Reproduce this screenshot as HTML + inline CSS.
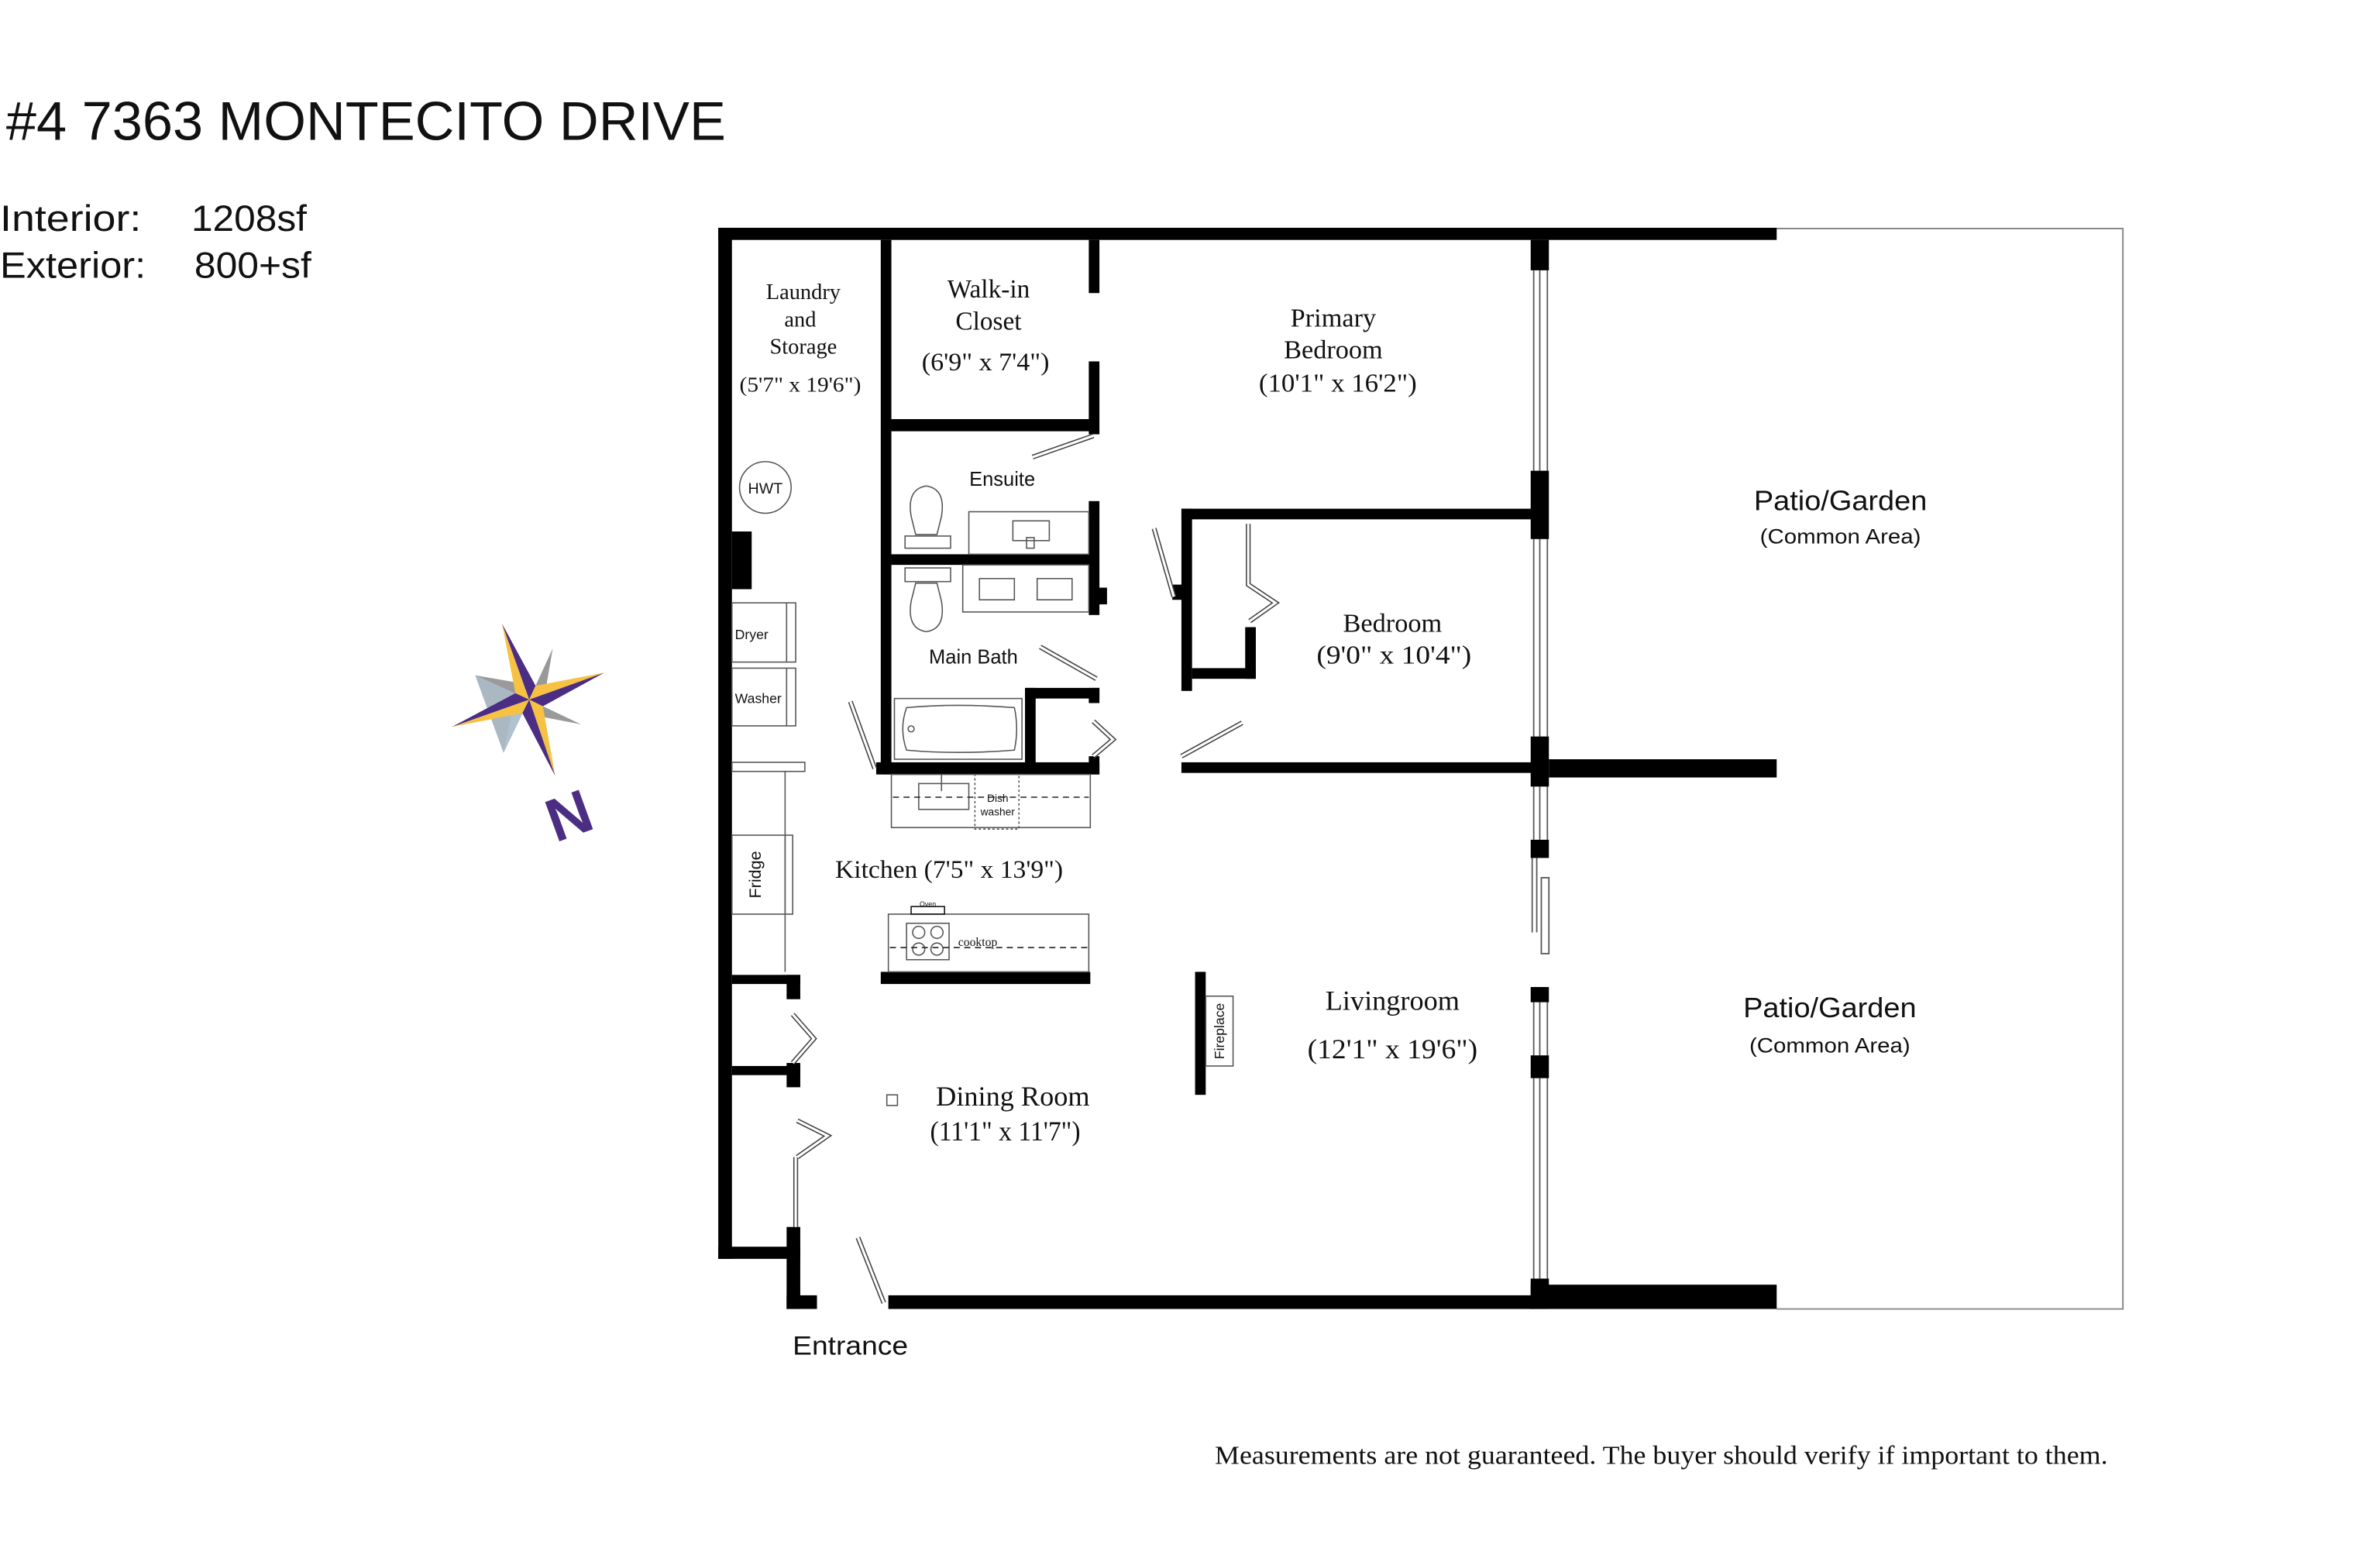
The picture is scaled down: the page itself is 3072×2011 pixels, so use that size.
<!DOCTYPE html>
<html><head><meta charset="utf-8"><style>
html,body{margin:0;padding:0;background:#fff;}
svg{display:block;}
.s{font-family:"Liberation Serif",serif;fill:#111;}
.a{font-family:"Liberation Sans","DejaVu Sans",sans-serif;fill:#111;}
.w{fill:#000;}
.d1{stroke:#444;stroke-width:3.2;fill:none;}
.d2{stroke:#fff;stroke-width:1.6;fill:none;}
.t{fill:none;stroke:#555;stroke-width:0.8;}
</style></head><body>
<svg width="3072" height="2011" viewBox="0 0 1567.3 1026" xmlns="http://www.w3.org/2000/svg">
<rect width="1567.3" height="1026" fill="#fff"/>
<text class="a" x="4" y="92" font-size="36" textLength="474" lengthAdjust="spacingAndGlyphs">#4 7363 MONTECITO DRIVE</text>
<text class="a" x="0" y="152" font-size="24" textLength="93" lengthAdjust="spacingAndGlyphs">Interior:</text>
<text class="a" x="126" y="152" font-size="24" textLength="76" lengthAdjust="spacingAndGlyphs">1208sf</text>
<text class="a" x="0" y="183" font-size="24" textLength="96" lengthAdjust="spacingAndGlyphs">Exterior:</text>
<text class="a" x="128" y="183" font-size="24" textLength="77" lengthAdjust="spacingAndGlyphs">800+sf</text>

<g>
<polygon points="312.9,444.7 348.5,460.7 364,427 348.5,460.7 382.7,477 348.5,460.7 331.6,495.8" fill="#aab8c4"/>
<polygon points="312.9,444.7 352.7,451.6 339.4,456.5" fill="#9a9a9a"/>
<polygon points="312.9,444.7 339.4,456.5 348.5,460.7" fill="#5d6472"/>
<polygon points="364,427 352.7,451.6 348.5,460.7" fill="#b9ccd9"/>
<polygon points="364,427 357.5,465.1 352.7,451.6" fill="#999"/>
<polygon points="382.7,477 357.5,465.1 348.5,460.7" fill="#b9ccd9"/>
<polygon points="382.7,477 344,469.6 357.5,465.1" fill="#9a9a9a"/>
<polygon points="331.6,495.8 344,469.6 348.5,460.7" fill="#c3d3de"/>
<polygon points="331.6,495.8 339.4,456.5 344,469.6" fill="#b0c2ce"/>
<polygon points="330.6,410.7 348.5,460.7 339.4,456.5" fill="#f7c244"/>
<polygon points="330.6,410.7 348.5,460.7 352.7,451.6" fill="#4b2e83"/>
<polygon points="398,443 348.5,460.7 352.7,451.6" fill="#f7c244"/>
<polygon points="398,443 348.5,460.7 357.5,465.1" fill="#4b2e83"/>
<polygon points="365.6,511 348.5,460.7 357.5,465.1" fill="#f7c244"/>
<polygon points="365.6,511 348.5,460.7 344,469.6" fill="#4b2e83"/>
<polygon points="297.6,478.7 348.5,460.7 344,469.6" fill="#f7c244"/>
<polygon points="297.6,478.7 348.5,460.7 339.4,456.5" fill="#4b2e83"/>
<text x="374" y="551" font-family="Liberation Sans,sans-serif" font-weight="bold" font-size="40" fill="#4b2e83" text-anchor="middle" transform="rotate(-20 374 535)">N</text>
</g>

<polyline points="1170,150.5 1398,150.5 1398,862 1170,862" fill="none" stroke="#888" stroke-width="1"/>

<g stroke="#555" stroke-width="0.9" fill="none">
<line x1="1010" y1="178" x2="1010" y2="310"/><line x1="1014" y1="178" x2="1014" y2="310"/><line x1="1019" y1="178" x2="1019" y2="310"/>
<line x1="1010" y1="355" x2="1010" y2="485"/><line x1="1014" y1="355" x2="1014" y2="485"/><line x1="1019" y1="355" x2="1019" y2="485"/>
<line x1="1010" y1="518" x2="1010" y2="553"/><line x1="1014" y1="518" x2="1014" y2="553"/><line x1="1019" y1="518" x2="1019" y2="553"/>
<line x1="1009" y1="565" x2="1009" y2="614"/><line x1="1012" y1="565" x2="1012" y2="614"/>
<rect x="1015" y="578" width="5" height="50"/>
<line x1="1010" y1="660" x2="1010" y2="695"/><line x1="1014" y1="660" x2="1014" y2="695"/><line x1="1019" y1="660" x2="1019" y2="695"/>
<line x1="1010" y1="710" x2="1010" y2="842"/><line x1="1014" y1="710" x2="1014" y2="842"/><line x1="1019" y1="710" x2="1019" y2="842"/>
</g>

<g class="w">
<rect x="473" y="150" width="697" height="8"/>
<rect x="473" y="150" width="9" height="679"/>
<rect x="473" y="821" width="54" height="8"/>
<rect x="518" y="808" width="9" height="54"/>
<rect x="518" y="853" width="20" height="9"/>
<rect x="585" y="853" width="425" height="9"/>
<rect x="1008" y="846" width="162" height="16"/>
<rect x="1008" y="158" width="12" height="20"/>
<rect x="1008" y="310" width="12" height="45"/>
<rect x="1008" y="485" width="12" height="33"/>
<rect x="1008" y="553" width="12" height="12"/>
<rect x="1008" y="650" width="12" height="10"/>
<rect x="1008" y="695" width="12" height="15"/>
<rect x="1008" y="842" width="12" height="20"/>
<rect x="1020" y="500" width="150" height="12"/>
<rect x="580" y="158" width="7" height="352"/>
<rect x="587" y="276" width="136" height="8"/>
<rect x="717" y="158" width="7" height="35"/>
<rect x="717" y="238" width="7" height="48"/>
<rect x="587" y="365" width="134" height="7"/>
<rect x="717" y="330" width="7" height="75"/>
<rect x="721" y="387" width="8" height="11"/>
<rect x="675" y="453" width="7" height="52"/>
<rect x="675" y="453" width="49" height="7"/>
<rect x="717" y="453" width="7" height="10"/>
<rect x="717" y="498" width="7" height="12"/>
<rect x="577" y="502" width="147" height="8"/>
<rect x="778" y="335" width="232" height="7"/>
<rect x="778" y="335" width="7" height="120"/>
<rect x="772" y="385" width="7" height="10"/>
<rect x="785" y="440" width="42" height="7"/>
<rect x="820" y="413" width="7" height="34"/>
<rect x="778" y="502" width="232" height="7"/>
<rect x="580" y="640" width="138" height="8"/>
<rect x="787" y="640" width="7" height="81"/>
<rect x="482" y="642" width="45" height="6"/>
<rect x="518" y="642" width="9" height="16"/>
<rect x="482" y="702" width="45" height="6"/>
<rect x="518" y="700" width="9" height="16"/>
<rect x="482" y="350" width="13" height="38"/>
</g>

<g>
<path class="d1" d="M720,287 L680,301 M760,348 L773,393 M685,426 L722,447 M560,462 L576,506 M720,475 L733,487 L720,498 M778,498 L818,476 M822,345 L822,385 L840,397 L823,409 M522,668 L536,684 L522,700 M525,762 L545,748 L525,738 M524,762 L524,808 M565,815 L582,858"/>
<path class="d2" d="M720,287 L680,301 M760,348 L773,393 M685,426 L722,447 M560,462 L576,506 M720,475 L733,487 L720,498 M778,498 L818,476 M822,345 L822,385 L840,397 L823,409 M522,668 L536,684 L522,700 M525,762 L545,748 L525,738 M524,762 L524,808 M565,815 L582,858"/>
</g>

<g class="t">
<rect x="482" y="397" width="42" height="39"/><line x1="518" y1="397" x2="518" y2="436"/>
<rect x="482" y="440" width="42" height="38"/><line x1="518" y1="440" x2="518" y2="478"/>
<rect x="482" y="502" width="48" height="6"/>
<line x1="517" y1="508" x2="517" y2="640"/>
<rect x="482" y="550" width="40" height="52"/><line x1="517" y1="550" x2="517" y2="602"/>
<circle cx="504" cy="321" r="17"/>
<rect x="589" y="460" width="84" height="40"/>
<path d="M597,466 Q630,463 668,466 Q671,480 668,494 Q630,497 597,494 Q592,480 597,466Z"/>
<circle cx="600" cy="480" r="2"/>
<path d="M603,352 L600,340 Q597,322 610,320 Q623,322 620,340 L617,352Z"/><rect x="596" y="353" width="30" height="8"/>
<path d="M603,384 L600,396 Q597,414 610,416 Q623,414 620,396 L617,384Z"/><rect x="596" y="374" width="30" height="9"/>
<rect x="638" y="337" width="79" height="28"/><rect x="667" y="343" width="24" height="13"/><rect x="676" y="354" width="5" height="7"/>
<rect x="634" y="372" width="83" height="31"/><rect x="645" y="381" width="23" height="14"/><rect x="683" y="381" width="23" height="14"/>
<rect x="587" y="510" width="131" height="35"/>
<rect x="605" y="516" width="33" height="17"/><line x1="620" y1="510" x2="620" y2="521"/>
<rect x="642" y="510" width="29" height="36" stroke-dasharray="1.5,1.5"/>
<line x1="588" y1="525" x2="717" y2="525" stroke="#222" stroke-dasharray="4,3"/>
<rect x="585" y="602" width="132" height="38"/>
<rect x="597" y="608" width="28" height="24"/>
<circle cx="605" cy="614" r="4"/><circle cx="617" cy="614" r="4"/><circle cx="605" cy="625" r="4"/><circle cx="617" cy="625" r="4"/>
<line x1="586" y1="624" x2="716" y2="624" stroke="#222" stroke-dasharray="4,3"/>
<rect x="600" y="597" width="22" height="5" stroke="#111"/>
<rect x="794" y="656" width="18" height="46"/>
<rect x="584" y="721" width="7" height="7"/>
</g>

<text class="a" x="504" y="325" font-size="10" text-anchor="middle">HWT</text>
<text class="a" x="484" y="421" font-size="9">Dryer</text>
<text class="a" x="484" y="463" font-size="9">Washer</text>
<text class="a" x="501" y="576" font-size="11" text-anchor="middle" transform="rotate(-90 501 576)">Fridge</text>
<text class="a" x="806" y="679" font-size="9" text-anchor="middle" transform="rotate(-90 806 679)">Fireplace</text>
<text class="a" x="657" y="528" font-size="7" text-anchor="middle">Dish</text>
<text class="a" x="657" y="537" font-size="7" text-anchor="middle">washer</text>
<text class="s" x="631" y="623" font-size="8">cooktop</text>
<text class="a" x="611" y="597" font-size="4.5" text-anchor="middle">Oven</text>

<g class="s" text-anchor="middle">
<text x="529" y="197" font-size="14.5">Laundry</text>
<text x="527" y="215" font-size="14.5">and</text>
<text x="529" y="233" font-size="14.5">Storage</text>
<text x="527" y="258" font-size="14" textLength="80" lengthAdjust="spacingAndGlyphs">(5'7" x 19'6")</text>
<text x="651" y="196" font-size="17">Walk-in</text>
<text x="651" y="217" font-size="17">Closet</text>
<text x="649" y="244" font-size="16.5" textLength="84" lengthAdjust="spacingAndGlyphs">(6'9" x 7'4")</text>
<text x="878" y="215" font-size="17.5">Primary</text>
<text x="878" y="236" font-size="17.5">Bedroom</text>
<text x="881" y="258" font-size="17.5" textLength="104" lengthAdjust="spacingAndGlyphs">(10'1" x 16'2")</text>
<text x="917" y="416" font-size="17.5">Bedroom</text>
<text x="918" y="437" font-size="17.5" textLength="102" lengthAdjust="spacingAndGlyphs">(9'0" x 10'4")</text>
<text x="625" y="578" font-size="16.5" textLength="150" lengthAdjust="spacingAndGlyphs">Kitchen  (7'5" x 13'9")</text>
<text x="917" y="665" font-size="18.5">Livingroom</text>
<text x="917" y="697" font-size="18.5" textLength="112" lengthAdjust="spacingAndGlyphs">(12'1" x 19'6")</text>
<text x="667" y="728" font-size="18.5">Dining Room</text>
<text x="662" y="751" font-size="18.5" textLength="99" lengthAdjust="spacingAndGlyphs">(11'1" x 11'7")</text>
</g>
<g class="a" text-anchor="middle">
<text x="660" y="320" font-size="13">Ensuite</text>
<text x="641" y="437" font-size="13">Main Bath</text>
<text x="1212" y="336" font-size="18.5" textLength="114" lengthAdjust="spacingAndGlyphs">Patio/Garden</text>
<text x="1212" y="358" font-size="13.5" textLength="106" lengthAdjust="spacingAndGlyphs">(Common Area)</text>
<text x="1205" y="670" font-size="18.5" textLength="114" lengthAdjust="spacingAndGlyphs">Patio/Garden</text>
<text x="1205" y="693" font-size="13.5" textLength="106" lengthAdjust="spacingAndGlyphs">(Common Area)</text>
<text x="560" y="892" font-size="17.5" textLength="76" lengthAdjust="spacingAndGlyphs">Entrance</text>
</g>
<text class="s" x="800" y="964" font-size="17" textLength="588" lengthAdjust="spacingAndGlyphs">Measurements are not guaranteed. The buyer should verify if important to them.</text>
</svg>
</body></html>
